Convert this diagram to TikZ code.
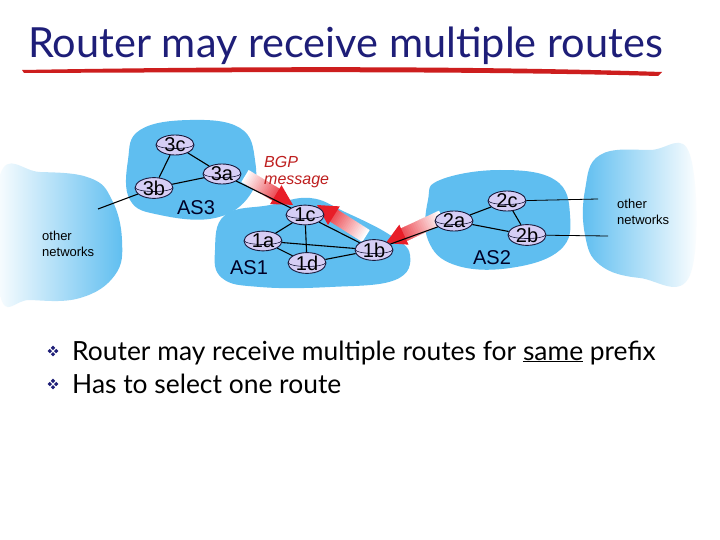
\documentclass[tikz,border=0pt]{standalone}
\usepackage{fontspec}
\setmainfont{Lato}
\newfontfamily\arialfont{Liberation Sans}
\usetikzlibrary{calc,shapes.geometric}

\definecolor{titleblue}{RGB}{30,30,120}
\definecolor{cloudblue}{RGB}{95,190,240}
\definecolor{routerfill}{RGB}{214,206,245}
\definecolor{routerline}{RGB}{25,25,60}
\definecolor{bgpred}{RGB}{232,30,40}
\definecolor{msgred}{RGB}{190,30,30}
\definecolor{underred}{RGB}{205,30,30}

\tikzset{
  router/.style={ellipse, draw=routerline, fill=routerfill, line width=0.9pt,
    minimum width=38pt, minimum height=16pt, inner sep=0pt,
    font=\arialfont\fontsize{20}{20}\selectfont,
    path picture={\draw[routerline, line width=0.6pt]
      ([yshift=1pt]path picture bounding box.west) .. controls +(0,-6pt) and +(0,-6pt) .. ([yshift=1pt]path picture bounding box.east);}},
  link/.style={line width=1.1pt, black},
  aslabel/.style={font=\arialfont\fontsize{20}{20}\selectfont, text=black!85!blue},
  othernet/.style={font=\arialfont\fontsize{13}{16}\selectfont, align=left, inner sep=0pt},
  item/.style={anchor=base west, inner sep=0pt, font=\fontsize{26.4}{26.4}\selectfont},
}

% shaded message arrow: tail x, tail y, angle, length
\newcommand{\bgparrow}[4]{%
  \begin{scope}[shift={(#1,#2)}, rotate=#3]
    \foreach \i in {0,...,19}{
      \pgfmathsetmacro{\mix}{\i*4}
      \fill[bgpred!\mix!white] ({\i*(#4-20)/20}, -7) rectangle ({(\i+1)*(#4-20)/20+0.6}, 7);
    }
    \fill[bgpred] ({#4-20}, -11) -- (#4, 0) -- ({#4-20}, 11) -- cycle;
  \end{scope}}

% four-diamond bullet
\newcommand{\wingbullet}[2]{%
  \foreach \dx/\dy in {0/-3.2,0/3.2,-3.2/0,3.2/0}
    \fill[titleblue, shift={(#1,#2)}] (\dx,\dy) +(0,2.2) -- +(2.2,0) -- +(0,-2.2) -- +(-2.2,0) -- cycle;}

\begin{document}
\begin{tikzpicture}[x=1pt, y=-1pt]
  \useasboundingbox (0,0) rectangle (720,540);
  \fill[white] (0,0) rectangle (720,540);

  % title
  \node[anchor=base west, inner sep=0pt, text=titleblue, font=\fontsize{41.5}{41.5}\selectfont] (title) at (28,58) {Router may receive multiple routes};
  \fill[underred] (22,70) .. controls (250,66) and (480,66) .. (662,72) -- (658,76) .. controls (480,71) and (250,72) .. (24,73) -- cycle;

  % clouds
  \shade[left color=white, right color=cloudblue] plot[smooth cycle, tension=0.7] coordinates {(0,175) (40,172) (90,178) (112,200) (122,240) (115,275) (80,298) (30,300) (0,295)};
  \shade[left color=cloudblue, right color=white] plot[smooth cycle, tension=0.7] coordinates {(600,155) (650,150) (690,155) (690,275) (640,278) (600,265) (585,235) (585,190)};
  \fill[cloudblue] plot[smooth cycle, tension=0.7] coordinates {(140,130) (190,120) (240,128) (255,160) (250,195) (215,218) (160,215) (130,200) (128,160)};
  \fill[cloudblue] plot[smooth cycle, tension=0.7] coordinates {(225,215) (270,205) (310,198) (345,212) (390,235) (410,255) (395,280) (330,287) (260,287) (222,278) (215,250)};
  \fill[cloudblue] plot[smooth cycle, tension=0.7] coordinates {(440,180) (500,170) (555,180) (570,215) (560,250) (510,268) (455,265) (428,240) (428,200)};

  % BGP messages
  \bgparrow{245}{176}{-31.1}{56}
  \bgparrow{366}{236}{147.7}{58}
  \bgparrow{442}{217}{204.9}{62}
  \node[font=\arialfont\itshape\fontsize{16}{17}\selectfont, text=msgred, align=left, anchor=north west, inner sep=0pt] (msg) at (264,156) {BGP\\message};

  % routers
  \node[router] (r3c) at (175,145) {3c};
  \node[router] (r3a) at (222,174) {3a};
  \node[router] (r3b) at (154,188) {3b};
  \node[router] (r1c) at (305,215) {1c};
  \node[router] (r1a) at (263,241) {1a};
  \node[router] (r1d) at (307,263) {1d};
  \node[router] (r1b) at (374,250) {1b};
  \node[router] (r2c) at (507,201) {2c};
  \node[router] (r2a) at (454,221) {2a};
  \node[router] (r2b) at (527,235) {2b};

  \node[aslabel] (as3) at (196,208) {AS3};
  \node[aslabel] (as1) at (249,268) {AS1};
  \node[aslabel] (as2) at (492,258) {AS2};

  \node[othernet, anchor=north west] (leftnet) at (42,231) {other\\networks};
  \node[othernet, anchor=north west] (rightnet) at (617,199) {other\\networks};
  \coordinate (leftend) at (98,209);
  \coordinate (rightendc) at (598,199);
  \coordinate (rightendb) at (608,236);

  % links
  \draw[link] (r3c) -- (r3a);
  \draw[link] (r3c) -- (r3b);
  \draw[link] (r3b) -- (r3a);
  \draw[link] (r3b) -- (leftend);
  \draw[link] (r3a) -- (r1c);
  \draw[link] (r1c) -- (r1a);
  \draw[link] (r1c) -- (r1d);
  \draw[link] (r1c) -- (r1b);
  \draw[link] (r1a) -- (r1b);
  \draw[link] (r1a) -- (r1d);
  \draw[link] (r1d) -- (r1b);
  \draw[link] (r1b) -- (r2a);
  \draw[link] (r2a) -- (r2c);
  \draw[link] (r2a) -- (r2b);
  \draw[link] (r2c) -- (r2b);
  \draw[black, line width=0.8pt] (r2c) -- (rightendc);
  \draw[black, line width=0.8pt] (r2b) -- (rightendb);

  % bullets
  \wingbullet{53}{351}
  \wingbullet{53}{384}
  \node[item] (item1) at (72,360) {Router may receive multiple routes for \underline{same} prefix};
  \node[item] (item2) at (72,393) {Has to select one route};
\end{tikzpicture}
\end{document}
